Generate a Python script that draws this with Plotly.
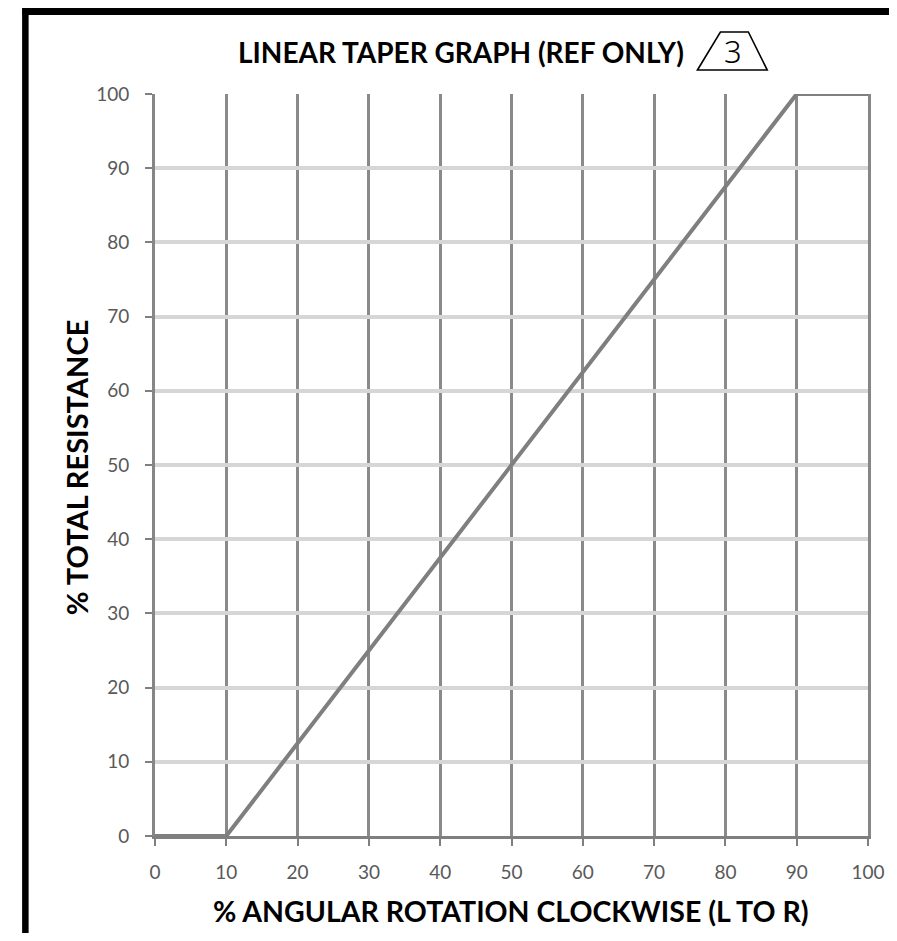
import plotly.graph_objects as go

# Data
rotation_pct = [0, 10, 90, 100]
resistance_pct = [0, 0, 100, 100]
x_ticks = [0, 10, 20, 30, 40, 50, 60, 70, 80, 90, 100]
y_ticks = [0, 10, 20, 30, 40, 50, 60, 70, 80, 90, 100]

title_text = "LINEAR TAPER GRAPH (REF ONLY)"
x_title = "% ANGULAR ROTATION CLOCKWISE (L TO R)"
y_title = "% TOTAL RESISTANCE"
rev_mark = "3"

OFF = 8  # page body margin
W, H = 897 - OFF, 941 - 2 * OFF
# plot area in page pixels
L, R, T, B = 155, 870, 94, 836


def px(xp):
    return (xp - L) / (R - L)


def py(yp):
    return (B - yp) / (B - T)


fig = go.Figure()
fig.add_trace(go.Scatter(
    x=rotation_pct, y=resistance_pct, mode="lines",
    line=dict(color="#7f7f7f", width=4),
    cliponaxis=False, showlegend=False, hoverinfo="skip",
))

tick_font = dict(family="Lato, Open Sans, sans-serif", size=19, color="#595959")

fig.update_layout(
    width=W, height=H,
    margin=dict(l=L - OFF, r=W - (R - OFF), t=T - OFF, b=H - (B - OFF), pad=0),
    paper_bgcolor="white", plot_bgcolor="white",
    xaxis=dict(
        range=[0, 100], tickvals=x_ticks, showgrid=True,
        gridcolor="#8a8a8a", gridwidth=3,
        showline=True, linecolor="#7f7f7f", linewidth=3,
        ticks="outside", ticklen=7, tickwidth=2, tickcolor="#7f7f7f",
        tickfont=tick_font, ticklabelstandoff=10, zeroline=False,
    ),
    yaxis=dict(
        range=[0, 100], tickvals=y_ticks, showgrid=True,
        gridcolor="#d6d6d6", gridwidth=4,
        showline=True, linecolor="#868686", linewidth=3, mirror=True,
        ticks="outside", ticklen=7, tickwidth=2, tickcolor="#7f7f7f",
        tickfont=tick_font, ticklabelstandoff=12, zeroline=False,
    ),
    font=dict(family="Lato, sans-serif"),
)

bold_font = "Lato, sans-serif"
fig.add_annotation(text="<b>" + title_text + "</b>", xref="paper", yref="paper",
                   x=px(462), y=py(52), xanchor="center", yanchor="middle",
                   showarrow=False,
                   font=dict(family=bold_font, size=28, color="#000000"))
fig.add_annotation(text="<b>" + x_title + "</b>", xref="paper", yref="paper",
                   x=px(512), y=py(911), xanchor="center", yanchor="middle",
                   showarrow=False,
                   font=dict(family=bold_font, size=28.5, color="#000000"))
fig.add_annotation(text="<b>" + y_title + "</b>", xref="paper", yref="paper",
                   x=px(77), y=py(467), xanchor="center", yanchor="middle",
                   showarrow=False, textangle=-90,
                   font=dict(family=bold_font, size=29, color="#000000"))
fig.add_annotation(text=rev_mark, xref="paper", yref="paper",
                   x=px(735), y=py(51), xanchor="center", yanchor="middle",
                   showarrow=False,
                   font=dict(family="Noto Sans, sans-serif",
                             size=31, weight=300, color="#000000"))

# Revision triangle (trapezoid)
pts = [(699, 70), (722, 32), (750, 32), (769, 70)]
path = "M " + " L ".join(f"{px(a):.4f},{py(b):.4f}" for a, b in pts) + " Z"
fig.add_shape(type="path", path=path, xref="paper", yref="paper",
              line=dict(color="black", width=1.6), fillcolor="rgba(0,0,0,0)")

# Frame lines (top and left)
fig.add_shape(type="line", xref="paper", yref="paper",
              x0=px(22), x1=px(905), y0=py(11.5), y1=py(11.5),
              line=dict(color="black", width=7))
fig.add_shape(type="line", xref="paper", yref="paper",
              x0=px(25), x1=px(25), y0=py(8), y1=py(950),
              line=dict(color="black", width=6.5))

fig.write_html("out.html")
